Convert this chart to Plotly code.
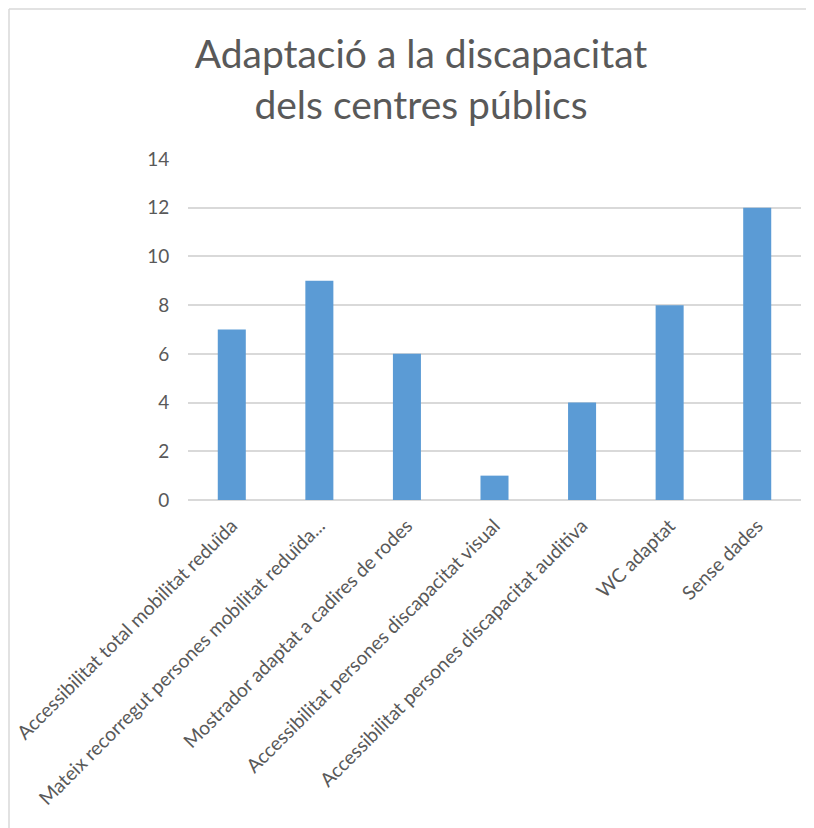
import plotly.graph_objects as go

categories = [
    "Accessibilitat total mobilitat reduïda",
    "Mateix recorregut persones mobilitat reduïda...",
    "Mostrador adaptat a cadires de rodes",
    "Accessibilitat persones discapacitat visual",
    "Accessibilitat persones discapacitat auditiva",
    "WC adaptat",
    "Sense dades",
]
values = [7, 9, 6, 1, 4, 8, 12]
y_ticks = [0, 2, 4, 6, 8, 10, 12, 14]

# the page body adds an 8px offset, so size the figure to the remaining space
OFF = 8
W, H = 814 - OFF, 828 - OFF
L, R, T, B = 188 - OFF, 13, 159 - OFF, 328
plot_w = W - L - R
plot_h = H - T - B


def fx(px):
    # figure pixel -> paper x
    return (px - L) / plot_w


def fy(py):
    # figure pixel -> paper y
    return (H - B - py) / plot_h


fig = go.Figure()
fig.add_trace(
    go.Bar(
        x=categories,
        y=values,
        marker_color="#5b9bd5",
        marker_line_width=0,
        width=0.32,
        showlegend=False,
    )
)

fig.update_layout(
    width=W,
    height=H,
    margin=dict(l=L, r=R, t=T, b=B, autoexpand=False),
    paper_bgcolor="white",
    plot_bgcolor="white",
    font=dict(family="Lato", color="#595959"),
    title=dict(
        text="Adaptació a la discapacitat<br>dels centres públics",
        x=(421 - OFF) / W,
        xref="container",
        xanchor="center",
        y=1 - 60 / H,
        yref="container",
        yanchor="top",
        font=dict(size=39, color="#595959", family="Lato"),
    ),
    xaxis=dict(
        tickangle=-45,
        tickfont=dict(size=19.3, color="#595959"),
        showgrid=False,
        showline=False,
        ticks="outside",
        ticklen=6,
        tickcolor="rgba(0,0,0,0)",
    ),
    yaxis=dict(
        range=[0, 14],
        tickvals=y_ticks,
        tickfont=dict(size=19, color="#595959"),
        gridcolor="#d9d9d9",
        gridwidth=1.5,
        zeroline=True,
        zerolinecolor="#d9d9d9",
        zerolinewidth=1.5,
        showline=False,
        ticks="outside",
        ticklen=14,
        tickcolor="rgba(0,0,0,0)",
    ),
)

# chart frame (top and left edges visible in the source)
frame = dict(color="#d9d9d9", width=1.5)
fig.add_shape(type="line", xref="paper", yref="paper",
              x0=fx(1), x1=fx(W + 20), y0=fy(1), y1=fy(1), line=frame)
fig.add_shape(type="line", xref="paper", yref="paper",
              x0=fx(1), x1=fx(1), y0=fy(1), y1=fy(H + 20), line=frame)

fig.write_html("out.html")
